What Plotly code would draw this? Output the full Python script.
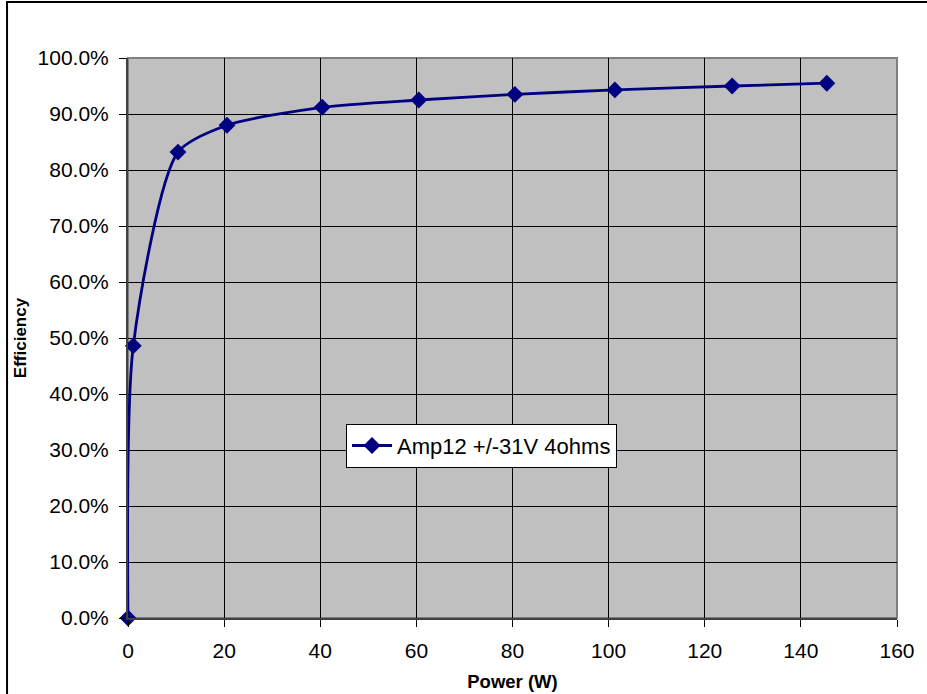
import plotly.graph_objects as go

power_w = [0, 1.1, 10.4, 20.6, 40.4, 60.5, 80.5, 101.3, 125.7, 145.4]
efficiency = [0.0, 0.486, 0.832, 0.880, 0.912, 0.925, 0.935, 0.943, 0.950, 0.955]
series_name = "Amp12 +/-31V 4ohms"
x_ticks = [0, 20, 40, 60, 80, 100, 120, 140, 160]
y_ticks = [0, 0.1, 0.2, 0.3, 0.4, 0.5, 0.6, 0.7, 0.8, 0.9, 1.0]

FONT = "Liberation Sans, Arial, sans-serif"
NAVY = "#000080"

fig = go.Figure()
fig.add_trace(go.Scatter(
    x=power_w, y=efficiency, name=series_name, mode="lines+markers",
    line=dict(color=NAVY, width=2.8, shape="spline", smoothing=0.7),
    marker=dict(symbol="diamond", size=13, color=NAVY),
    cliponaxis=False,
))

fig.update_layout(
    width=927, height=694,
    margin=dict(l=128, r=30, t=58, b=76),
    paper_bgcolor="white", plot_bgcolor="#C0C0C0",
    font=dict(family=FONT, size=21, color="black"),
    showlegend=True,
    legend=dict(
        x=0.2835, y=0.347, xanchor="left", yanchor="top",
        bgcolor="white", bordercolor="black", borderwidth=1,
        font=dict(family=FONT, size=22, color="black"),
        itemwidth=40,
    ),
    xaxis=dict(
        range=[0, 160], tickvals=x_ticks, ticktext=[str(v) for v in x_ticks],
        showgrid=True, gridcolor="black", gridwidth=1,
        zeroline=False, showline=True, linecolor="#404040", linewidth=2,
        ticks="outside", ticklen=7, tickcolor="black", ticklabelstandoff=6,
        automargin=False,
        title=dict(text="<b>Power (W)</b>", font=dict(family=FONT, size=18.5), standoff=14),
    ),
    yaxis=dict(
        range=[0, 1.0], tickvals=y_ticks, tickformat=".1%",
        showgrid=True, gridcolor="black", gridwidth=1,
        zeroline=False, showline=True, linecolor="#404040", linewidth=2,
        ticks="outside", ticklen=7, tickcolor="black", ticklabelstandoff=6,
        automargin=False,
        title=dict(text="<b>Efficiency</b>", font=dict(family=FONT, size=17), standoff=7),
    ),
    shapes=[
        dict(type="rect", xref="paper", yref="paper", x0=0, x1=1, y0=0, y1=1,
             line=dict(color="#808080", width=2), layer="below"),
        dict(type="rect", xref="paper", yref="paper", x0=-0.1573, x1=1.1, y0=-0.3, y1=1.1,
             line=dict(color="black", width=2), fillcolor="rgba(0,0,0,0)"),
    ],
)

fig.write_html("out.html", config={"displayModeBar": False},
               post_script="document.body.style.margin='0';")
